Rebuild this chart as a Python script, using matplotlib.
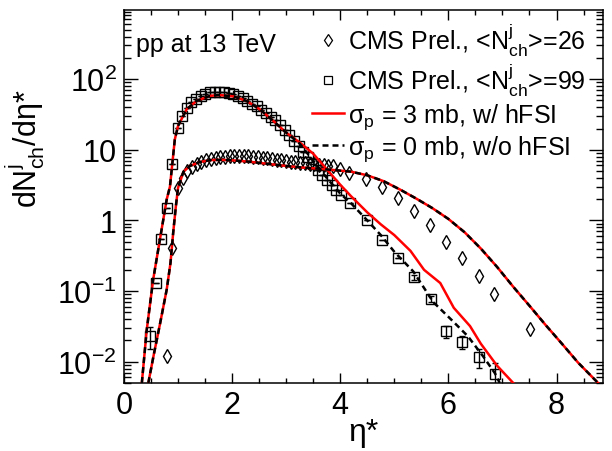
import numpy as np
import matplotlib
matplotlib.use('Agg')
import matplotlib.pyplot as plt
from matplotlib.lines import Line2D
from matplotlib.ticker import LogLocator, FuncFormatter, MultipleLocator, NullFormatter

# CMS preliminary, <N_ch^j> = 26 (diamonds)
dm_x = [0.79, 0.89, 1.00, 1.09, 1.17, 1.26, 1.35, 1.43, 1.52, 1.61, 1.70, 1.78, 1.87, 1.96,
        2.04, 2.13, 2.22, 2.30, 2.39, 2.48, 2.57, 2.65, 2.74, 2.83, 2.91, 3.00, 3.09, 3.17,
        3.26, 3.35, 3.44, 3.52, 3.61, 3.70, 3.78, 3.87, 3.99, 4.17, 4.47, 4.77, 5.06, 5.36,
        5.66, 5.96, 6.26, 6.56, 6.85, 7.51]
dm_y = [0.012, 0.41, 2.9, 4.0, 5.0, 5.7, 6.3, 6.8, 7.2, 7.5, 7.7, 7.9, 8.0, 8.1,
        8.1, 8.1, 8.1, 8.05, 7.95, 7.85, 7.7, 7.55, 7.4, 7.25, 7.1, 6.95, 6.8, 6.65,
        6.55, 6.45, 6.35, 6.25, 6.15, 6.05, 5.95, 5.85, 5.3, 4.75, 3.9, 2.97, 2.05, 1.37,
        0.85, 0.50, 0.29, 0.162, 0.091, 0.029]

# CMS preliminary, <N_ch^j> = 99 (squares)
sq_x = [0.48, 0.60, 0.68, 0.79, 0.88, 0.99, 1.07, 1.16, 1.24, 1.33, 1.42, 1.50, 1.59, 1.68,
        1.76, 1.85, 1.94, 2.02, 2.11, 2.20, 2.28, 2.37, 2.46, 2.54, 2.63, 2.72, 2.80, 2.89,
        2.98, 3.06, 3.15, 3.24, 3.32, 3.41, 3.50, 3.58, 3.67, 3.76, 3.84, 3.93, 4.02, 4.18,
        4.49, 4.78, 5.06, 5.36, 5.67, 5.96, 6.26, 6.56, 6.86]
sq_y = [0.023, 0.13, 0.54, 1.5, 6.2, 20.6, 30, 38.5, 47, 53, 58.5, 62.5, 65.5, 66.5,
        66.5, 66, 64.5, 62, 58, 53.5, 49, 45, 41, 37, 33, 29.5, 26, 22.5,
        19, 16.2, 13.5, 11.3, 9.4, 7.8, 6.2, 5.2, 4.4, 3.7, 3.15, 2.7, 2.3, 1.78,
        1.0, 0.52, 0.296, 0.157, 0.078, 0.027, 0.019, 0.0116, 0.0067]
sq_err = [0.008, 0, 0, 0, 0, 0, 0, 0, 0, 0, 0, 0, 0, 0,
          0, 0, 0, 0, 0, 0, 0, 0, 0, 0, 0, 0, 0, 0,
          0, 0, 0, 0, 0, 0, 0, 0, 0, 0, 0, 0, 0, 0,
          0, 0, 0, 0.012, 0.008, 0.005, 0.004, 0.0035, 0.003]

# model, <N> = 26 (hFSI on/off lie on top of each other)
c26_x = [0.45, 0.55, 0.665, 0.79, 0.86, 0.91, 0.96, 1.0, 1.1, 1.22, 1.4, 1.6, 1.8, 2.0,
         2.3, 2.6, 3.0, 3.3, 3.6, 3.9, 4.2, 4.5, 4.8, 5.1, 5.4, 5.7, 6.0, 6.3,
         6.6, 6.9, 7.2, 7.5, 7.8, 8.1, 8.4, 8.77]
c26_hfsi = [0.005, 0.0125, 0.034, 0.105, 0.25, 0.67, 1.6, 2.9, 4.9, 5.9, 6.7, 7.15, 7.2, 7.1,
            6.8, 6.4, 5.9, 5.6, 5.4, 5.15, 4.9, 4.35, 3.6, 2.75, 2.05, 1.5, 1.05, 0.68,
            0.4, 0.22, 0.115, 0.062, 0.033, 0.018, 0.0097, 0.005]
c26_nohfsi = [0.005, 0.0125, 0.034, 0.105, 0.25, 0.67, 1.6, 2.9, 4.9, 5.9, 6.7, 7.15, 7.2, 7.1,
              6.8, 6.4, 5.9, 5.6, 5.4, 5.15, 4.9, 4.35, 3.6, 2.75, 2.05, 1.5, 1.05, 0.68,
              0.4, 0.22, 0.115, 0.062, 0.033, 0.018, 0.0097, 0.005]

# model, <N> = 99
c99_x = [0.33, 0.42, 0.54, 0.665, 0.79, 0.85, 0.94, 1.0, 1.16, 1.34, 1.59, 1.77, 2.02, 2.27,
         2.51, 2.76, 3.0, 3.25, 3.5, 3.75, 4.0, 4.2, 4.5, 4.75, 5.0, 5.3, 5.55, 5.85,
         6.1, 6.4, 6.6, 6.9, 7.2]
c99_hfsi = [0.005, 0.028, 0.146, 0.54, 1.98, 3.0, 14, 21.8, 37.5, 49, 58, 59.5, 57, 49,
            37.5, 25.7, 17.5, 12.7, 8.8, 5.3, 3.2, 2.2, 1.3, 0.88, 0.62, 0.37, 0.2, 0.13,
            0.058, 0.032, 0.018, 0.0088, 0.005]
c99n_x = [0.33, 0.42, 0.54, 0.665, 0.79, 0.85, 0.94, 1.0, 1.16, 1.34, 1.59, 1.77, 2.02, 2.27,
          2.51, 2.76, 3.0, 3.25, 3.5, 3.75, 4.0, 4.2, 4.5, 4.75, 5.0, 5.35, 5.72, 6.06,
          6.36, 6.64, 6.86, 6.95]
c99_nohfsi = [0.005, 0.028, 0.146, 0.54, 1.98, 3.0, 14, 21.8, 37.5, 49, 58, 59.5, 57, 49,
              37.5, 25.7, 17.5, 12.2, 7.0, 4.0, 2.4, 1.75, 1.0, 0.62, 0.36, 0.19, 0.07, 0.039,
              0.023, 0.012, 0.0069, 0.005]

plt.rcParams['font.family'] = ['Liberation Sans', 'DejaVu Sans']
plt.rcParams['mathtext.default'] = 'regular'

fig = plt.figure(figsize=(6.12, 4.52), dpi=100)
ax = fig.add_axes([0.2026, 0.1504, 0.7827, 0.8252])

dash = (0, (2.4, 1.6))
ax.errorbar(sq_x, sq_y, yerr=sq_err, fmt='s', ms=6.8, mfc='none', mec='k', mew=1.0,
            ecolor='k', elinewidth=1.0, capsize=2.5, zorder=3)
ax.plot(dm_x, dm_y, 'd', ms=7.5, mfc='none', mec='k', mew=1.0, zorder=3)
ax.plot(c26_x, c26_hfsi, color='red', lw=1.8, zorder=4)
ax.plot(c99_x, c99_hfsi, color='red', lw=1.8, zorder=4)
ax.plot(c26_x, c26_nohfsi, color='k', lw=1.8, ls=dash, zorder=5)
ax.plot(c99n_x, c99_nohfsi, color='k', lw=1.8, ls=dash, zorder=5)

ax.set_yscale('log')
ax.set_xlim(0, 8.86)
ax.set_ylim(0.005, 950)

ax.xaxis.set_major_locator(MultipleLocator(2))
ax.xaxis.set_minor_locator(MultipleLocator(0.5))
ax.yaxis.set_major_locator(LogLocator(base=10))
ax.yaxis.set_minor_locator(LogLocator(base=10, subs=np.arange(2, 10)))
ax.yaxis.set_minor_formatter(NullFormatter())


def log_label(v, pos):
    e = int(round(np.log10(v)))
    if e == 0:
        return '1'
    if e == 1:
        return '10'
    return '$10^{%d}$' % e


ax.yaxis.set_major_formatter(FuncFormatter(log_label))
ax.tick_params(which='both', direction='in', top=True, right=True, width=1.0)
ax.tick_params(axis='x', which='major', length=7, labelsize=22, pad=5)
ax.tick_params(axis='x', which='minor', length=3.5)
ax.tick_params(axis='y', which='major', length=10, labelsize=22, pad=5)
ax.tick_params(axis='y', which='minor', length=5)
for s in ax.spines.values():
    s.set_linewidth(1.1)

ax.set_xlabel('η*', fontsize=23, labelpad=-2)
ax.set_ylabel('$dN^{j}_{ch}$/dη*', fontsize=22)
ax.yaxis.set_label_coords(-0.16, 0.63)

ax.text(0.025, 0.909, 'pp at 13 TeV', transform=ax.transAxes, fontsize=18, va='center')

handles = [
    Line2D([], [], ls='none', marker='d', ms=6, mfc='none', mec='k', mew=0.9),
    Line2D([], [], ls='none', marker='s', ms=5.5, mfc='none', mec='k', mew=0.9),
    Line2D([], [], color='red', lw=1.8),
    Line2D([], [], color='k', lw=1.8, ls=dash),
]
labels = ['CMS Prel., <$N^{j}_{ch}$>=26',
          'CMS Prel., <$N^{j}_{ch}$>=99',
          '$σ_{p}$ = 3 mb, w/ hFSI',
          '$σ_{p}$ = 0 mb, w/o hFSI']
ax.legend(handles, labels, loc='upper left', bbox_to_anchor=(0.392, 0.972), frameon=False,
          fontsize=18, handlelength=1.3, handletextpad=0.15, borderaxespad=0, borderpad=0,
          labelspacing=0.12)

fig.savefig('out.png', dpi=100)
